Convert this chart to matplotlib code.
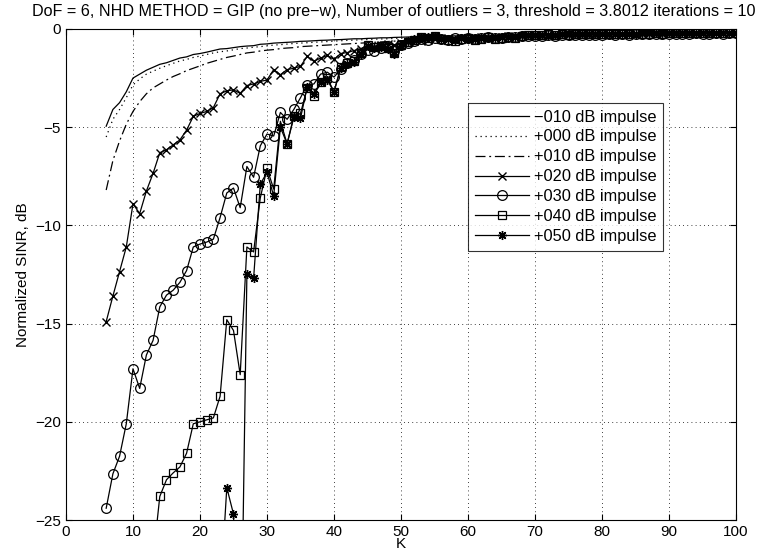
import numpy as np
import matplotlib
matplotlib.use('Agg')
import matplotlib.pyplot as plt

plt.rcParams['font.family'] = ['Liberation Sans', 'DejaVu Sans']
plt.rcParams['axes.unicode_minus'] = True

# normalized SINR (dB) against K, one list per impulse level
k_start_m010 = 6
sinr_m010 = [-4.95, -4.1, -3.75, -3.2, -2.5, -2.3, -2.1, -1.95, -1.8, -1.72,
             -1.6, -1.48, -1.42, -1.3, -1.25, -1.18, -1.1, -1.02, -1.0, -0.95,
             -0.9, -0.87, -0.85, -0.78, -0.76, -0.72, -0.7, -0.68, -0.66, -0.63,
             -0.62, -0.6, -0.58, -0.57, -0.55,
             -0.54, -0.52, -0.5, -0.5, -0.48, -0.47, -0.45, -0.45, -0.43, -0.42,
             -0.41, -0.4, -0.4, -0.38, -0.37, -0.37, -0.36, -0.35, -0.35, -0.34,
             -0.33, -0.33, -0.32, -0.32, -0.31, -0.3, -0.3, -0.3, -0.29, -0.29,
             -0.28, -0.28, -0.27, -0.27, -0.27, -0.26, -0.26, -0.26, -0.25, -0.25,
             -0.25, -0.24, -0.24, -0.24, -0.23, -0.23, -0.23, -0.23, -0.22, -0.22,
             -0.22, -0.22, -0.21, -0.21, -0.21, -0.21, -0.2, -0.2, -0.2, -0.2]

k_start_p000 = 6
sinr_p000 = [-5.5, -4.6, -4.1, -3.5, -2.85, -2.55, -2.3, -2.15, -2.0, -1.87,
             -1.75, -1.63, -1.55, -1.45, -1.38, -1.3, -1.22, -1.16, -1.12, -1.06,
             -1.0, -0.97, -0.93, -0.9, -0.86, -0.82, -0.8, -0.77, -0.74, -0.72,
             -0.7, -0.68, -0.66, -0.64, -0.62,
             -0.6, -0.58, -0.57, -0.55, -0.54, -0.52, -0.51, -0.5, -0.48, -0.47,
             -0.46, -0.45, -0.44, -0.43, -0.42, -0.41, -0.4, -0.4, -0.39, -0.38,
             -0.37, -0.37, -0.36, -0.35, -0.35, -0.34, -0.34, -0.33, -0.33, -0.32,
             -0.32, -0.31, -0.31, -0.3, -0.3, -0.3, -0.29, -0.29, -0.28, -0.28,
             -0.28, -0.27, -0.27, -0.27, -0.26, -0.26, -0.26, -0.25, -0.25, -0.25,
             -0.25, -0.24, -0.24, -0.24, -0.24, -0.23, -0.23, -0.23, -0.23, -0.22]

k_start_p010 = 6
sinr_p010 = [-8.2, -6.7, -5.7, -4.85, -4.2, -3.7, -3.3, -3.0, -2.8, -2.6,
             -2.42, -2.28, -2.12, -2.0, -1.88, -1.75, -1.65, -1.55, -1.45, -1.38,
             -1.3, -1.22, -1.18, -1.12, -1.08, -1.05, -1.0, -0.97, -0.95, -0.9,
             -0.88, -0.86, -0.84, -0.82, -0.8,
             -0.78, -0.76, -0.74, -0.72, -0.7, -0.68, -0.66, -0.64, -0.62, -0.6,
             -0.58, -0.56, -0.55, -0.53, -0.52, -0.5, -0.49, -0.48, -0.47, -0.46,
             -0.45, -0.44, -0.43, -0.42, -0.41, -0.4, -0.39, -0.38, -0.38, -0.37,
             -0.36, -0.35, -0.35, -0.34, -0.33, -0.33, -0.32, -0.32, -0.31, -0.31,
             -0.3, -0.3, -0.29, -0.29, -0.29, -0.28, -0.28, -0.27, -0.27, -0.27,
             -0.26, -0.26, -0.26, -0.25, -0.25, -0.25, -0.25, -0.24, -0.24, -0.24]

k_start_p020 = 6
sinr_p020 = [-14.9, -13.6, -12.35, -11.1, -8.9, -9.4, -8.25, -7.35, -6.3, -6.15,
             -5.9, -5.65, -5.15, -4.45, -4.3, -4.2, -4.0, -3.3, -3.15, -3.1,
             -3.28, -2.88, -2.8, -2.67, -2.6, -2.07, -2.33, -2.07, -2.0, -1.9,
             -1.4, -1.65, -1.48, -1.35, -1.55,
             -1.25, -1.2, -1.1, -1.0, -0.85, -0.9, -0.8, -0.75, -0.82, -0.7,
             -0.65, -0.6, -0.62, -0.55, -0.5, -0.52, -0.48, -0.5, -0.45, -0.47,
             -0.44, -0.42, -0.45, -0.4, -0.42, -0.38, -0.4, -0.37, -0.35, -0.38,
             -0.34, -0.33, -0.35, -0.32, -0.3, -0.33, -0.3, -0.29, -0.31, -0.28,
             -0.3, -0.27, -0.28, -0.26, -0.28, -0.25, -0.27, -0.26, -0.24, -0.26,
             -0.25, -0.23, -0.25, -0.24, -0.22, -0.24, -0.23, -0.22, -0.23, -0.21]

k_start_p030 = 6
sinr_p030 = [-24.4, -22.65, -21.75, -20.1, -17.3, -18.3, -16.6, -15.85, -14.15, -13.55,
             -13.3, -12.9, -12.3, -11.1, -10.95, -10.85, -10.7, -9.6, -8.35, -8.1,
             -9.1, -7.0, -7.55, -5.95, -5.35, -5.45, -4.25, -4.6, -4.1, -3.5,
             -2.85, -2.8, -2.3, -2.2, -2.45,
             -2.05, -1.75, -1.6, -1.3, -1.05, -1.1, -0.95, -0.9, -1.1, -0.8,
             -0.7, -0.6, -0.5, -0.55, -0.45, -0.5, -0.55, -0.48, -0.52, -0.45,
             -0.5, -0.47, -0.42, -0.48, -0.44, -0.4, -0.43, -0.38, -0.36, -0.34,
             -0.37, -0.33, -0.35, -0.31, -0.33, -0.3, -0.32, -0.29, -0.3, -0.31,
             -0.28, -0.3, -0.27, -0.29, -0.26, -0.28, -0.27, -0.25, -0.27, -0.26,
             -0.24, -0.26, -0.25, -0.23, -0.25, -0.24, -0.22, -0.24, -0.23, -0.22]

k_start_p040 = 13
sinr_p040 = [-27.0, -23.8, -22.95, -22.6, -22.3, -21.6, -20.1, -20.0, -19.9, -19.8,
             -18.7, -14.8, -15.35, -17.6, -11.1, -11.35, -8.6, -7.1, -8.15, -4.7,
             -5.85, -4.45, -4.3, -3.0, -3.4, -2.7, -2.5, -3.2,
             -1.95, -1.75, -1.65, -1.2, -0.8, -0.9, -0.85, -0.95, -1.2, -0.8,
             -0.65, -0.55, -0.4, -0.45, -0.35, -0.5, -0.55, -0.6, -0.5, -0.45,
             -0.55, -0.5, -0.42, -0.5, -0.45, -0.4, -0.45, -0.35, -0.3, -0.33,
             -0.3, -0.28, -0.32, -0.28, -0.3, -0.27, -0.25, -0.28, -0.26, -0.25,
             -0.27, -0.24, -0.26, -0.25, -0.23, -0.25, -0.24, -0.22, -0.24, -0.23,
             -0.22, -0.21, -0.23, -0.22, -0.2, -0.22, -0.21, -0.2, -0.21, -0.2]

k_start_p050 = 23
sinr_p050 = [-29.0, -23.35, -24.7, -35.0, -12.5, -12.7, -7.9, -7.3, -8.5, -5.0,
             -5.85, -4.5, -4.55, -2.95, -3.3, -2.7, -2.6, -3.2,
             -2.0, -1.8, -1.7, -1.25, -0.85, -0.95, -0.9, -1.0, -1.25, -0.85,
             -0.6, -0.5, -0.42, -0.4, -0.38, -0.52, -0.5, -0.55, -0.48, -0.5,
             -0.52, -0.45, -0.45, -0.47, -0.4, -0.42, -0.4, -0.33, -0.32, -0.3,
             -0.32, -0.3, -0.3, -0.27, -0.28, -0.28, -0.26, -0.27, -0.25, -0.26,
             -0.25, -0.25, -0.24, -0.24, -0.25, -0.23, -0.23, -0.23, -0.22, -0.22,
             -0.22, -0.22, -0.21, -0.21, -0.21, -0.2, -0.2, -0.2, -0.2, -0.19]

labels = ['\u2212010 dB impulse', '+000 dB impulse', '+010 dB impulse',
          '+020 dB impulse', '+030 dB impulse', '+040 dB impulse',
          '+050 dB impulse']

series = [(k_start_m010, sinr_m010), (k_start_p000, sinr_p000),
          (k_start_p010, sinr_p010), (k_start_p020, sinr_p020),
          (k_start_p030, sinr_p030), (k_start_p040, sinr_p040),
          (k_start_p050, sinr_p050)]

styles = [dict(ls='-', marker=None),
          dict(ls=(0, (1, 3)), marker=None),
          dict(ls=(0, (8, 3, 1.5, 3)), marker=None),
          dict(ls='-', marker='x', ms=5.5, mew=1.0),
          dict(ls='-', marker='o', ms=7, mfc='none', mew=0.9),
          dict(ls='-', marker='s', ms=5.5, mfc='none', mew=0.9),
          dict(ls='-', marker=(8, 2, 0), ms=6.5, mew=1.0)]

fig = plt.figure(figsize=(7.61, 5.57), dpi=100)
ax = fig.add_axes([0.0867, 0.0664, 0.8805, 0.8816])

for (k0, vals), lab, st in zip(series, labels, styles):
    k = np.arange(k0, k0 + len(vals))
    ax.plot(k, vals, color='k', lw=0.9, label=lab, **st)

ax.set_xlim(0, 100)
ax.set_ylim(-25, 0)
ax.set_xticks(np.arange(0, 101, 10))
ax.set_yticks(np.arange(-25, 1, 5))
ax.grid(True, color='k', ls=(0, (1, 4)), lw=0.6)
ax.tick_params(direction='in', top=True, right=True, length=4, labelsize=11)
for sp in ax.spines.values():
    sp.set_linewidth(0.8)

ax.set_xlabel('K', fontsize=11, labelpad=-1)
ax.set_ylabel('Normalized SINR, dB', fontsize=11, labelpad=4)
ax.set_title('DoF = 6, NHD METHOD = GIP (no pre\u2212w), Number of outliers = 3, '
             'threshold = 3.8012 iterations = 10', fontsize=11.6, pad=9,
             x=0.489)

leg = ax.legend(loc='upper left', bbox_to_anchor=(0.588, 0.866), fontsize=11.8,
                frameon=True, fancybox=False, handlelength=3.3,
                borderpad=0.4, labelspacing=0.3, handletextpad=0.3)
leg.get_frame().set_edgecolor('k')
leg.get_frame().set_linewidth(0.8)

fig.savefig('out.png', dpi=100)
